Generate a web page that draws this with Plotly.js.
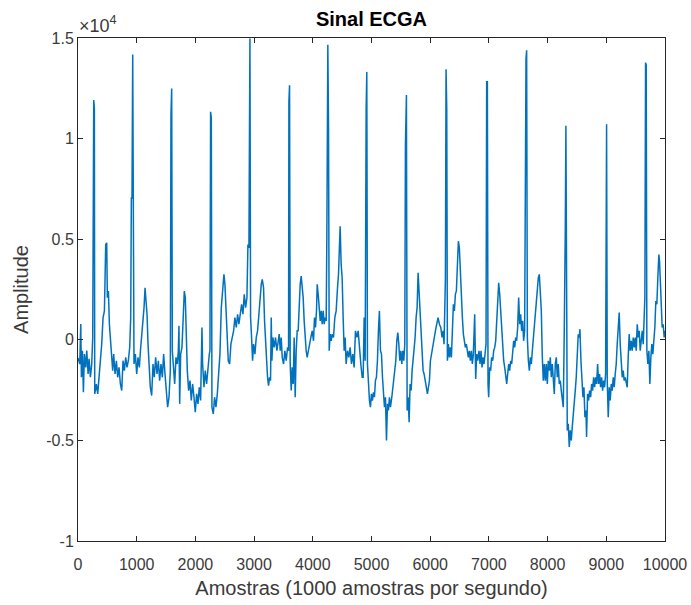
<!DOCTYPE html>
<html>
<head>
<meta charset="utf-8">
<script src="https://cdn.plot.ly/plotly-3.0.1.min.js"></script>
<style>html,body{margin:0;padding:0;background:#fff;}#chart{width:691px;height:605px;}</style>
</head>
<body>
<div id="chart"></div>
<script>
// Sample index (1000 samples per second) and amplitude
const amostras = [
0,30,47,58,75,92,109,132,149,172,189,211,234,251,268,279,285,313,336,359,382,404,427,450,472,489,500,518,535,552,574,591,608,631,654,676,699,722,745,767,790,813,835,858,881,898,909,920,932,943,954,977,1000,1022,1045,1068,1091,1108,1125,1142,1159,1176,1193,1210,1232,1255,1278,1300,1323,1346,1369,1391,1414,1437,1459,1482,1505,1527,1550,1573,1584,1596,1607,1624,1647,1669,
1692,1709,1720,1732,1749,1771,1788,1811,1828,1845,1862,1885,1908,1930,1953,1976,1998,2021,2044,2066,2089,2112,2123,2146,2168,2191,2214,2237,2248,2259,2271,2282,2305,2327,2350,2373,2395,2418,2441,2463,2486,2503,2520,2537,2560,2583,2605,2628,2651,2673,2696,2719,2741,2764,2787,2810,2832,2855,2878,2895,2912,2929,2940,2957,2974,2991,3014,3037,3059,3082,3099,3122,3139,3161,3178,3195,3212,3229,3246,3263,3280,3292,3303,3320,3343,3365,3388,3411,
3428,3445,3462,3479,3502,3524,3547,3570,3587,3593,3604,3615,3632,3649,3666,3683,3700,3717,3734,3751,3768,3785,3802,3819,3836,3853,3870,3887,3904,3922,3944,3967,3990,4012,4029,4046,4063,4075,4092,4109,4126,4143,4160,4177,4194,4211,4228,4239,4256,4268,4279,4296,4313,4330,4353,4375,4398,4421,4438,4455,4466,4483,4500,4517,4534,4551,4568,4591,4614,4636,4659,4682,4704,4727,4750,4773,4795,4818,4841,4858,4875,4892,4909,4920,4931,4948,4965,4982,4999,5016,5033,5050,5067,5084,5101,5118,5135,
5153,5170,5187,5204,5221,5238,5255,5272,5289,5306,5323,5346,5368,5391,5414,5431,5448,5465,5482,5499,5516,5533,5550,5567,5578,5595,5607,5624,5641,5658,5675,5692,5709,5726,5743,5760,5777,5794,5811,5828,5845,5862,5879,5896,5919,5936,5953,5970,5987,6004,6021,6043,6066,6089,6111,6134,6157,6180,6202,6219,6236,6248,6259,6270,6282,6293,6310,6327,6344,6361,6378,6395,6412,6429,6446,6463,6480,6497,6514,6531,6548,6565,6582,6599,6616,6633,6650,6667,6684,6701,6718,6735,6758,6775,6792,6809,6832,
6849,6866,6883,6900,6917,6934,6951,6962,6974,6985,6996,7013,7030,7047,7065,7082,7099,7116,7133,7150,7167,7184,7201,7218,7235,7252,7269,7286,7303,7320,7337,7354,7371,7388,7405,7422,7439,7456,7473,7490,7507,7524,7541,7558,7575,7592,7609,7621,7632,7643,7655,7672,7689,7706,7723,7740,7757,7774,7791,7808,7825,7842,7859,7876,7893,7910,7927,7944,7961,7978,7995,8012,8029,8046,8063,8080,8097,8114,8131,8148,8165,8182,8199,8216,8233,8250,8267,8284,8290,8301,8312,8324,8335,8352,8369,8386,8403,8420,8437,8454,8471,8488,8505,8522,8540,
8551,8568,8585,8602,8619,8636,8653,8664,8681,8698,8716,8733,8750,8767,8784,8801,8818,8835,8852,8869,8886,8903,8920,8937,8954,8971,8988,8994,9005,9016,9033,9050,9067,9084,9101,9118,9135,9152,9169,9186,9203,9220,9237,9254,9271,9288,9305,9322,9339,9356,9373,9390,9407,9424,9441,9459,9476,9493,9510,9527,9544,9561,9578,9595,9612,9629,9646,9657,9669,9680,9691,9708,9725,9742,9759,9776,9793,9810,9827,9844,9861,9878,9895,9907,9918,9935,9952,9969,9986,10000
];
const amplitude = [
-900,-1200,780,-1860,-540,-2600,-710,-1370,-540,-1700,-950,-1860,-1200,120,11914,11500,-2690,-2200,-2690,-1860,-870,-210,1106,1436,4736,4818,2096,2426,776,-50,-540,-1534,-710,-1700,-1040,-1864,-1370,-2194,-2524,-1040,-1534,-874,-1370,-1040,-379,1106,7046,7046,14174,6386,-1204,-710,-1700,-874,-1370,-379,280,776,1600,2590,2096,1270,-214,-1534,-2360,-2770,-1204,-1864,-874,-1700,-1040,-2029,-1204,-1864,-710,-1700,-2524,-3349,-2854,-1534,11171,12491,-544,-1370,-2194,-874,
-1204,-544,693,-3184,-710,-379,776,2426,2096,280,-1534,-2524,-2029,-3019,-2194,-2854,-3600,-2690,-3184,-2360,-3019,611,-1204,-2360,-1534,-2194,-1204,-710,-544,11336,11006,-3349,-3679,-2854,-3349,-2690,-1864,-710,1600,2426,3251,2756,1436,280,-1040,-1204,-214,116,446,1106,611,1270,776,1270,1766,1270,2261,1600,2096,4736,4571,14980,1106,116,-1040,-214,-710,116,446,1270,2096,2756,3004,2591,941,-214,-1204,-1864,-2277,-1864,-2029,1106,-1040,116,-379,116,-544,-50,
280,-544,116,-874,-1204,-544,-1040,-379,-544,11831,12656,-1204,-2524,-1370,-2194,116,-2854,-544,446,446,1766,2756,3168,2756,2096,941,116,-544,-874,-544,-379,116,446,-50,1106,611,1436,2756,2261,1600,941,1436,776,1436,776,1106,941,4983,14669,10593,-544,280,-50,280,116,1106,1436,2591,3251,4736,5644,3746,3086,1106,-544,116,-1204,-544,-874,-379,-1204,-710,-1370,446,116,446,-544,-1204,-1864,-1864,1106,-1040,11501,13316,-1204,-2524,-3019,-3349,-2690,-3019,-2607,-2854,-2029,-1864,-1040,446,1436,
-544,-710,-1864,-2854,-3349,-2854,-4999,-3184,-3514,-2854,-3349,-2854,-2194,-1370,-1040,-50,363,-214,-1040,-544,-1204,-544,-1040,-214,9686,12161,-3514,-2854,-4091,-2194,-2524,-1534,-1040,-214,116,1106,1600,3334,2426,1106,446,-544,-1534,-1699,-2029,-2360,-2690,-2360,-2029,-1040,-710,-214,116,446,776,1106,776,611,116,446,-214,3004,3004,13448,11501,-1040,-214,-874,-379,-874,116,1766,1436,2261,2426,3416,4901,4571,3086,1766,1106,280,-50,-379,-214,-544,-874,-544,-1040,-544,-1204,-710,1270,-1947,-710,-1040,-544,
-1204,-544,-1370,-874,-1204,-710,-214,12821,12821,-2194,-2854,-1370,-1534,-874,-1040,-544,-379,-50,1106,2426,2838,2261,1436,116,-544,-1040,-1370,-2029,-2194,-1699,-1204,-1534,-1040,-1204,-544,-50,-379,116,-50,611,2096,776,1270,446,941,-50,446,13316,13976,14389,116,-1040,-1534,-874,-1204,-544,116,776,1106,1931,2426,3086,3251,2426,1436,-874,-2029,-1204,-2029,-1204,-2194,-1040,-1534,-874,-1864,-1204,-2194,-2690,-1204,-874,-1864,-1204,-2194,-2029,-2524,-2854,-3349,446,5066,5396,10643,446,-4504,-4174,-5329,-4504,-4999,-4339,-3844,-3349,-2524,-1864,-544,280,116,
528,-1040,-2029,-2854,-2360,-3844,-3514,-4834,-2690,-3019,-2524,-2854,-2194,-2524,-1864,-2360,-1864,-2194,-1204,-2194,-1699,-2360,-1864,-2524,-2029,-2360,-1699,10346,10709,-2029,-3844,-2360,-3019,-2194,-2524,-1864,-2360,-1699,-1204,-214,776,1354,-214,-1204,-1864,-1534,-2029,-1864,-2194,-2360,-874,280,-544,-50,-544,116,-379,116,-544,776,116,446,-544,116,446,-214,2096,2096,13778,13646,-544,-1204,-544,-2194,-874,-214,-710,-50,611,1931,1766,3086,4241,3911,3086,1766,611,776,116,446
];
const xTickVals = [0,1000,2000,3000,4000,5000,6000,7000,8000,9000,10000];
const yTickVals = [-10000,-5000,0,5000,10000,15000];
const yTickText = ['-1','-0.5','0','0.5','1','1.5'];

const FONT = 'Liberation Sans, Arial, Helvetica, sans-serif';
const AX = '#262626';

const trace = {
  x: amostras, y: amplitude, type: 'scatter', mode: 'lines',
  line: {color: '#0072BD', width: 1.5}, hoverinfo: 'skip'
};

const axisCommon = {
  showgrid: false, zeroline: false, showline: true, linecolor: AX, linewidth: 1,
  mirror: 'allticks', ticks: 'inside', ticklen: 5, tickcolor: AX, tickwidth: 1,
  tickfont: {family: FONT, size: 16, color: '#3a3a3a'}
};

const layout = {
  width: 691, height: 605,
  margin: {l: 78, r: 26, t: 38, b: 64},
  paper_bgcolor: '#ffffff', plot_bgcolor: '#ffffff',
  showlegend: false,
  title: {text: '<b>Sinal ECGA</b>', font: {family: FONT, size: 20, color: '#000'},
          x: 0.5, xref: 'paper', xanchor: 'center', y: 1 - 19/605, yref: 'container', yanchor: 'middle'},
  xaxis: Object.assign({}, axisCommon, {
    range: [0, 10000], tickmode: 'array', tickvals: xTickVals,
    ticktext: xTickVals.map(String), ticklabelstandoff: 9,
    title: {text: 'Amostras (1000 amostras por segundo)', font: {family: FONT, size: 20, color: '#3a3a3a'}, standoff: 8}
  }),
  yaxis: Object.assign({}, axisCommon, {
    range: [-10000, 15000], tickmode: 'array', tickvals: yTickVals, ticktext: yTickText,
    title: {text: 'Amplitude', font: {family: FONT, size: 20, color: '#3a3a3a'}, standoff: 12}
  }),
  annotations: [{
    text: '×10<sup>4</sup>', xref: 'paper', yref: 'paper', x: 0, y: 1,
    xanchor: 'left', yanchor: 'bottom', showarrow: false, xshift: -1, yshift: 0,
    font: {family: FONT, size: 18, color: '#3a3a3a'}
  }]
};

Plotly.newPlot('chart', [trace], layout, {staticPlot: true, displayModeBar: false});
</script>
</body>
</html>
